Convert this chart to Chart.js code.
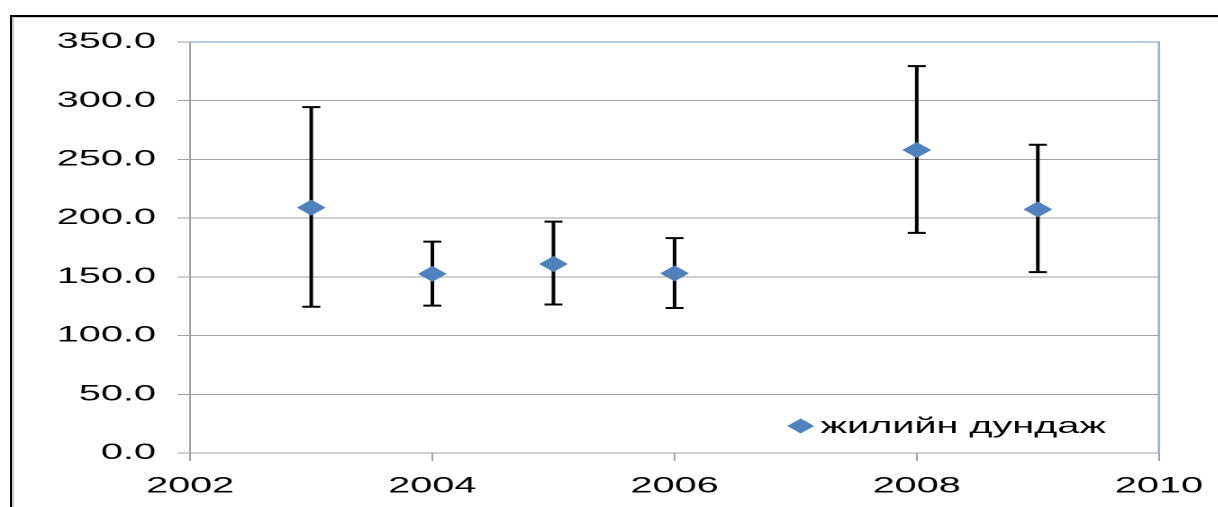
<!DOCTYPE html>
<html><head><meta charset="utf-8">
<script src="https://cdn.jsdelivr.net/npm/chart.js@4.4.1/dist/chart.umd.min.js"></script>
<style>
html,body{margin:0;padding:0;background:#fff;overflow:hidden;width:1218px;height:507px;position:relative;}
#frame{position:absolute;left:10px;top:15px;width:1400px;height:800px;border-left:2px solid #000;border-top:2px solid #000;box-shadow:inset 2px 1px 0 #c8c8c8;}
#wrap{position:absolute;left:0;top:0;width:676.67px;height:507px;transform:scaleX(1.8);transform-origin:0 0;}
</style></head>
<body><div id="frame"></div><div id="wrap"><canvas id="c"></canvas></div>
<script>
// ---- data ----
const years = [2003, 2004, 2005, 2006, 2008, 2009];
const means = [209, 152.5, 161, 153, 258, 207.5];
const highs = [294.5, 180, 197, 183, 329.5, 262.5];
const lows  = [124.5, 125.5, 126.5, 123.5, 187.5, 154];
const xTicks = [2002, 2004, 2006, 2008, 2010];
const yTicks = [0, 50, 100, 150, 200, 250, 300, 350];
const seriesLabel = 'жилийн дундаж';

const BLUE = '#4f81bd';
const GRID = '#a0a0a0';

Chart.defaults.font.family = '"Liberation Sans", Arial, sans-serif';
Chart.defaults.font.size = 22;
Chart.defaults.color = '#000';

const errorBars = {
  id: 'errorBars',
  beforeDatasetsDraw(chart) {
    const {ctx, scales: {x, y}, chartArea} = chart;
    ctx.save();
    // plot-area top/right border (light blue)
    ctx.strokeStyle = '#8faadc';
    ctx.lineWidth = 1.2;
    ctx.beginPath();
    ctx.moveTo(chartArea.left, chartArea.top);
    ctx.lineTo(chartArea.right, chartArea.top);
    ctx.lineTo(chartArea.right, chartArea.bottom);
    ctx.stroke();
    // error bars
    ctx.strokeStyle = '#000';
    ctx.lineWidth = 2;
    years.forEach((yr, i) => {
      const px = x.getPixelForValue(yr);
      const pHi = y.getPixelForValue(highs[i]);
      const pLo = y.getPixelForValue(lows[i]);
      ctx.beginPath();
      ctx.moveTo(px, pHi); ctx.lineTo(px, pLo);
      ctx.moveTo(px - 5, pHi); ctx.lineTo(px + 5, pHi);
      ctx.moveTo(px - 5, pLo); ctx.lineTo(px + 5, pLo);
      ctx.stroke();
    });
    ctx.restore();
  }
};

const legendInside = {
  id: 'legendInside',
  afterDraw(chart) {
    const {ctx} = chart;
    const ds = chart.data.datasets[0];
    const cx = 444.5, cy = 426;
    ctx.save();
    ctx.fillStyle = BLUE;
    ctx.beginPath();
    ctx.moveTo(cx - 7.5, cy); ctx.lineTo(cx, cy - 7.5);
    ctx.lineTo(cx + 7.5, cy); ctx.lineTo(cx, cy + 7.5);
    ctx.closePath(); ctx.fill();
    ctx.fillStyle = '#000';
    ctx.font = '22px "Liberation Sans", Arial, sans-serif';
    ctx.textBaseline = 'middle';
    ctx.textAlign = 'left';
    ctx.fillText(ds.label, 455.5, cy + 1);
    ctx.restore();
  }
};

new Chart(document.getElementById('c'), {
  type: 'scatter',
  data: {
    datasets: [{
      label: seriesLabel,
      data: years.map((yr, i) => ({x: yr, y: means[i]})),
      pointStyle: 'rectRot',
      pointRadius: 8,
      pointHoverRadius: 8,
      backgroundColor: BLUE,
      borderColor: BLUE,
      borderWidth: 0
    }]
  },
  options: {
    responsive: true,
    maintainAspectRatio: false,
    devicePixelRatio: 2,
    animation: false,
    layout: {padding: {top: 42, right: 33.33, left: 0, bottom: 0}},
    plugins: {legend: {display: false}, tooltip: {enabled: false}},
    scales: {
      x: {
        type: 'linear',
        min: xTicks[0], max: xTicks[xTicks.length - 1],
        afterBuildTicks: s => { s.ticks = xTicks.map(v => ({value: v})); },
        afterFit: s => { s.height = 54; s.paddingLeft = 0; s.paddingRight = 0; },
        grid: {drawOnChartArea: false, tickLength: 8, color: GRID, tickColor: GRID},
        border: {color: GRID, width: 1},
        ticks: {padding: 12, callback: v => String(v), maxRotation: 0}
      },
      y: {
        min: yTicks[0], max: yTicks[yTicks.length - 1],
        afterBuildTicks: s => { s.ticks = yTicks.map(v => ({value: v})); },
        afterFit: s => { s.width = 105.56; s.paddingTop = 0; s.paddingBottom = 0; },
        grid: {color: GRID, tickLength: 7, tickColor: GRID, lineWidth: 1},
        border: {color: GRID, width: 1},
        ticks: {padding: 12, callback: v => Number(v).toFixed(1)}
      }
    }
  },
  plugins: [errorBars, legendInside]
});
</script>
</body></html>
